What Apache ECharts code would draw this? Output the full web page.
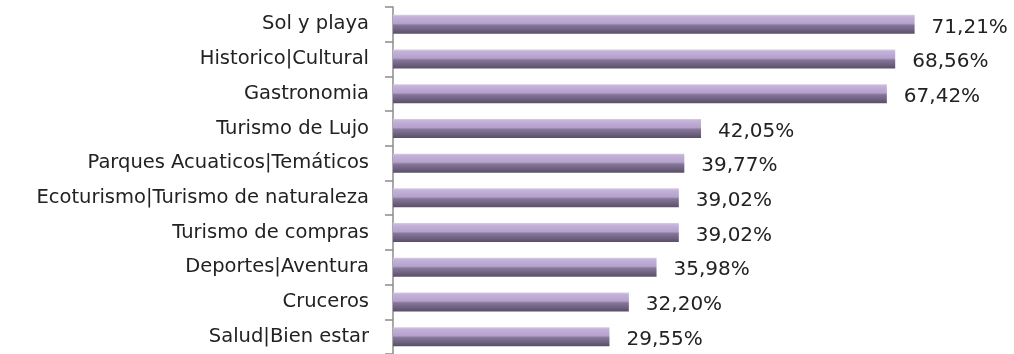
<!DOCTYPE html>
<html><head><meta charset="utf-8">
<script src="https://cdn.jsdelivr.net/npm/echarts@6/dist/echarts.min.js"></script>
<style>html,body{margin:0;padding:0;background:#fff}#c{width:1014px;height:354px}</style>
</head><body><div id="c"></div>
<script>
const categories = ["Sol y playa","Historico|Cultural","Gastronomia","Turismo de Lujo","Parques Acuaticos|Temáticos","Ecoturismo|Turismo de naturaleza","Turismo de compras","Deportes|Aventura","Cruceros","Salud|Bien estar"];
const values = [71.21,68.56,67.42,42.05,39.77,39.02,39.02,35.98,32.20,29.55];

const chart = echarts.init(document.getElementById('c'), null, {renderer:'canvas'});
const font = '"DejaVu Sans", sans-serif';
chart.setOption({
  animation:false,
  grid:{left:393, top:7, width:586, height:351, containLabel:false},
  xAxis:{type:'value', min:0, max:80, show:false},
  yAxis:{type:'category', data:categories, inverse:true,
    axisLine:{show:true, lineStyle:{color:'#8c8c8c', width:1.5}},
    axisTick:{show:true, length:8, lineStyle:{color:'#8c8c8c', width:1.5}},
    axisLabel:{margin:24, fontSize:19.5, color:'#222', fontFamily:font}
  },
  series:[{type:'bar', data:values, barWidth:19,
    itemStyle:{
      color:new echarts.graphic.LinearGradient(0,0,0,1,[
        {offset:0,color:'#d6cde0'},
        {offset:0.1,color:'#c4b2da'},
        {offset:0.45,color:'#b4a2cc'},
        {offset:0.55,color:'#86769a'},
        {offset:0.8,color:'#6e6080'},
        {offset:1,color:'#5a4e66'}
      ])
    },
    label:{show:true, position:'right', distance:17, offset:[0,3], fontSize:20, color:'#222', fontFamily:font,
      formatter:p=>p.value.toFixed(2).replace('.',',')+'%'}
  }]
});
</script></body></html>
